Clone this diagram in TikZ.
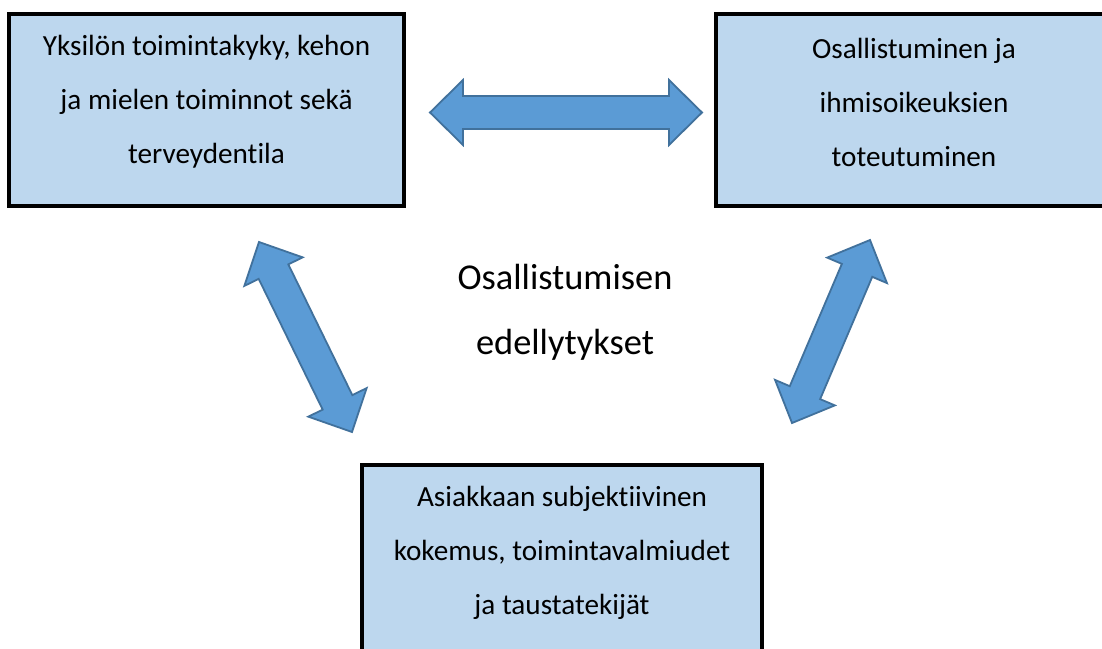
\documentclass[tikz,border=0pt]{standalone}
\usepackage{fontspec}
\setmainfont{Carlito}[Ligatures={NoCommon,NoRare,NoContextual}]
\usetikzlibrary{calc}
\definecolor{boxfill}{HTML}{BDD7EE}
\definecolor{arrowfill}{HTML}{5B9BD5}
\definecolor{arrowline}{HTML}{41719C}
\tikzset{
  infobox/.style={draw=black, line width=3.5pt, fill=boxfill, inner sep=0pt},
  boxtext/.style={align=center, inner sep=0pt, font=\fontsize{29.2}{54}\selectfont},
  blockarrow/.style={draw=arrowline, line width=1.8pt, fill=arrowfill, line join=miter},
  centertext/.style={align=center, font=\fontsize{36.4}{65}\selectfont}
}
\newcommand{\dblarrow}[2]{%
  \path[blockarrow]
    (#1)
    -- ($($(#1)!33pt!(#2)$)!32.5pt!90:(#2)$)
    -- ($($(#1)!33pt!(#2)$)!16.5pt!90:(#2)$)
    -- ($($(#2)!33pt!(#1)$)!16.5pt!-90:(#1)$)
    -- ($($(#2)!33pt!(#1)$)!32.5pt!-90:(#1)$)
    -- (#2)
    -- ($($(#2)!33pt!(#1)$)!32.5pt!90:(#1)$)
    -- ($($(#2)!33pt!(#1)$)!16.5pt!90:(#1)$)
    -- ($($(#1)!33pt!(#2)$)!16.5pt!-90:(#2)$)
    -- ($($(#1)!33pt!(#2)$)!32.5pt!-90:(#2)$)
    -- cycle;}
\begin{document}
\begin{tikzpicture}[x=1pt, y=-1pt]
\clip (0,0) rectangle (1102,648);
\fill[white] (0,0) rectangle (1102,648);
\node[infobox, minimum width=395pt, minimum height=192pt] (b1) at (206.5,110) {};
\node[infobox, minimum width=396pt, minimum height=192pt] (b2) at (914,110) {};
\node[infobox, minimum width=400pt, minimum height=192pt] (b3) at (562,561) {};
\node[boxtext] (t1) at ($(b1.center)+(0,-8)$)
  {Yksilön toimintakyky, kehon\\ja mielen toiminnot sekä\\terveydentila};
\node[boxtext] (t2) at ($(b2.center)+(0,-8)$)
  {Osallistuminen ja\\ihmisoikeuksien\\toteutuminen};
\node[boxtext] (t3) at ($(b3.center)+(0,-8)$)
  {Asiakkaan subjektiivinen\\kokemus, toimintavalmiudet\\ja taustatekijät};
\node[centertext] (c) at (565,312) {Osallistumisen\\edellytykset};
\coordinate (h1) at (430,112.5);
\coordinate (h2) at (702,112.5);
\coordinate (l1) at (259,242);
\coordinate (l2) at (352,432);
\coordinate (r1) at (870,240);
\coordinate (r2) at (792,423);
\dblarrow{h1}{h2}
\dblarrow{l1}{l2}
\dblarrow{r1}{r2}
\end{tikzpicture}
\end{document}
